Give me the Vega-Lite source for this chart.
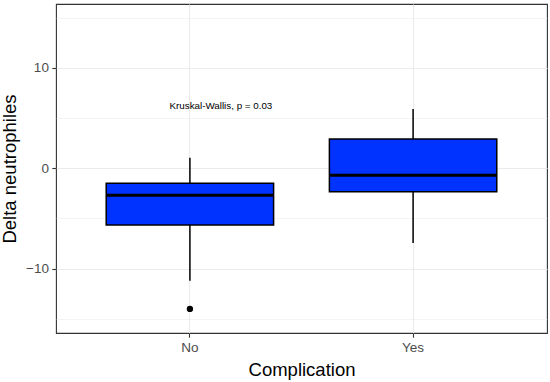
{
  "$schema": "https://vega.github.io/schema/vega-lite/v6.json",
  "width": 491,
  "height": 329,
  "autosize": "none",
  "padding": {"left": 56, "top": 4, "right": 3, "bottom": 49},
  "background": "white",
  "config": {
    "font": "Liberation Sans",
    "view": {"stroke": "#333333", "strokeWidth": 1.1},
    "axis": {
      "domain": false,
      "tickColor": "#333333",
      "tickSize": 4.2,
      "tickWidth": 1.1,
      "labelColor": "#4D4D4D",
      "labelFontSize": 13.5,
      "labelPadding": 3.4,
      "labelFont": "Liberation Sans",
      "gridColor": "#EBEBEB",
      "gridWidth": 1.1,
      "titleFont": "Liberation Sans",
      "titleFontSize": 18.5,
      "titleColor": "black",
      "titleFontWeight": "normal"
    }
  },
  "datasets": {
    "boxes": [
      {"Complication": "No", "lo": -11.2, "q1": -5.65, "median": -2.7, "q3": -1.5, "hi": 1.05},
      {"Complication": "Yes", "lo": -7.45, "q1": -2.35, "median": -0.7, "q3": 2.9, "hi": 5.9}
    ],
    "outliers": [
      {"Complication": "No", "value": -14.0}
    ],
    "note": [
      {"Complication": "No", "value": 6.2, "label": "Kruskal-Wallis, p = 0.03"}
    ]
  },
  "resolve": {"axis": {"y": "independent"}},
  "encoding": {
    "x": {
      "field": "Complication",
      "type": "nominal",
      "sort": ["No", "Yes"],
      "scale": {"type": "band", "paddingInner": 0.25, "paddingOuter": 0.225},
      "axis": {
        "title": "Complication",
        "labelAngle": 0,
        "grid": true,
        "bandPosition": 0.5,
        "titleX": 245.5,
        "titleY": 42.7,
        "titleBaseline": "alphabetic"
      }
    }
  },
  "layer": [
    {
      "data": {"name": "boxes"},
      "mark": {"type": "rule", "color": "black", "strokeWidth": 1.5},
      "encoding": {
        "y": {
          "field": "lo",
          "type": "quantitative",
          "scale": {"domain": [-16.4, 16.35], "nice": false, "zero": false},
          "axis": {
            "orient": "left",
            "values": [-15, -5, 5, 15],
            "grid": true,
            "gridWidth": 0.55,
            "labels": false,
            "ticks": false,
            "domain": false,
            "title": null
          }
        },
        "y2": {"field": "hi"}
      }
    },
    {
      "data": {"name": "boxes"},
      "mark": {"type": "bar", "color": "#0033ff", "stroke": "black", "strokeWidth": 1.5, "opacity": 1},
      "encoding": {
        "y": {
          "field": "q1",
          "type": "quantitative",
          "axis": {
            "orient": "left",
            "values": [-10, 0, 10],
            "grid": true,
            "title": "Delta neutrophiles",
            "titleX": -46.5,
            "titleY": 164.5,
            "titleAngle": -90,
            "titleAlign": "center",
            "titleBaseline": "middle"
          }
        },
        "y2": {"field": "q3"}
      }
    },
    {
      "data": {"name": "boxes"},
      "mark": {"type": "tick", "color": "black", "size": 167, "thickness": 3, "opacity": 1, "orient": "horizontal"},
      "encoding": {
        "y": {"field": "median", "type": "quantitative", "axis": null}
      }
    },
    {
      "data": {"name": "outliers"},
      "mark": {"type": "point", "filled": true, "color": "black", "size": 40, "opacity": 1},
      "encoding": {
        "y": {"field": "value", "type": "quantitative", "axis": null}
      }
    },
    {
      "data": {"name": "note"},
      "mark": {"type": "text", "fontSize": 9.8, "color": "black", "align": "center", "baseline": "middle", "dx": 31},
      "encoding": {
        "y": {"field": "value", "type": "quantitative", "axis": null},
        "text": {"field": "label"}
      }
    }
  ]
}
